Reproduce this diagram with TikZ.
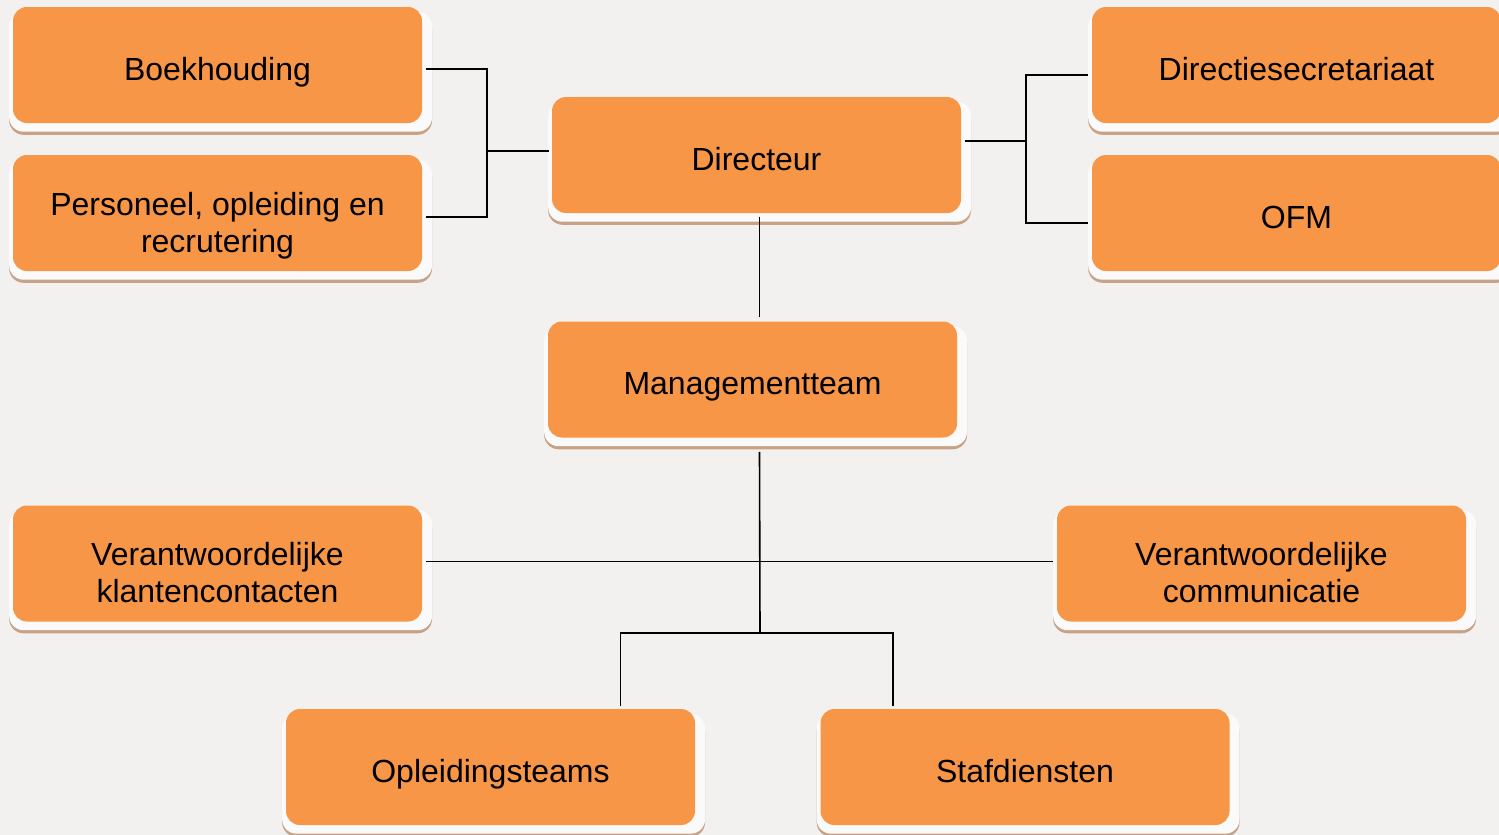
\documentclass[tikz,border=0pt]{standalone}
\usepackage{fontspec}
\setmainfont{Liberation Sans}
\usepackage{tikz}
\usetikzlibrary{shadows}
\usetikzlibrary{positioning}
\definecolor{deptorange}{HTML}{F79646}
\definecolor{depttan}{HTML}{C8A287}
\definecolor{deptplate}{HTML}{FAFAFA}
\definecolor{paper}{HTML}{F2F1EF}

\begin{document}
\begin{tikzpicture}[x=0.5pt,y=-0.5pt,node distance=74pt,
  dept/.style={fill=deptorange,rounded corners=7pt,minimum width=204.5pt,minimum height=58pt,
    align=center,font=\fontsize{16}{18.5}\selectfont,inner sep=0pt,text height=15pt,text depth=0pt,
    general shadow={shadow scale=1.034,shadow xshift=1.5pt,shadow yshift=-4.75pt,fill=depttan},
    general shadow={shadow scale=1.034,shadow xshift=1.5pt,shadow yshift=-3.25pt,fill=deptplate}},
  twoline/.style={text height=39pt,text depth=0pt},
  wire/.style={draw=black,line width=0.8pt}]
  \useasboundingbox (0,0) rectangle (1499,835);
  \clip (0,0) rectangle (1499,835);
  \fill[paper] (0,0) rectangle (1499,835);

  \node[dept] (boek) at (217.5,65) {Boekhouding};
  \node[dept,twoline,below of=boek] (pers) {Personeel, opleiding en\\recrutering};
  \node[dept] (dir) at (756.5,155) {Directeur};
  \node[dept] (dsec) at (1296.5,65) {Directiesecretariaat};
  \node[dept,below of=dsec] (ofm) {OFM};
  \node[dept] (mt) at (752.5,379.5) {Managementteam};
  \node[dept,twoline] (vkc) at (217.5,563.5) {Verantwoordelijke\\klantencontacten};
  \node[dept,twoline] (vcom) at (1261.5,563.5) {Verantwoordelijke\\communicatie};
  \node[dept] (opl) at (490.5,767) {Opleidingsteams};
  \node[dept] (staf) at (1025,767) {Stafdiensten};

  \coordinate (lb) at (487,151);
  \coordinate (rb) at (1026,141);
  \coordinate (fork) at (760,633);

  % staff to the left and right of the director
  \draw[wire] ([shift={(4,4)}]boek.east) -| (lb) |- ([shift={(4,4)}]pers.east);
  \draw[wire] (lb) -- ([shift={(-3,-4)}]dir.west);
  \draw[wire] ([shift={(-4,10)}]dsec.west) -| (rb) |- ([shift={(-4,10)}]ofm.west);
  \draw[wire] ([shift={(4,-14)}]dir.east) -- (rb);

  % director down to the teams
  \draw[wire] ([shift={(3,4)}]dir.south) -- ([shift={(7,-4)}]mt.north);
  \draw[wire] ([shift={(7,14)}]mt.south) -- (fork);
  \draw[wire] ([shift={(4,-2)}]vkc.east) -- ([shift={(-4,-2)}]vcom.west);
  \draw[wire] ([shift={(130,-3)}]opl.north) |- (fork) -| ([shift={(-132,-3)}]staf.north);
\end{tikzpicture}
\end{document}
